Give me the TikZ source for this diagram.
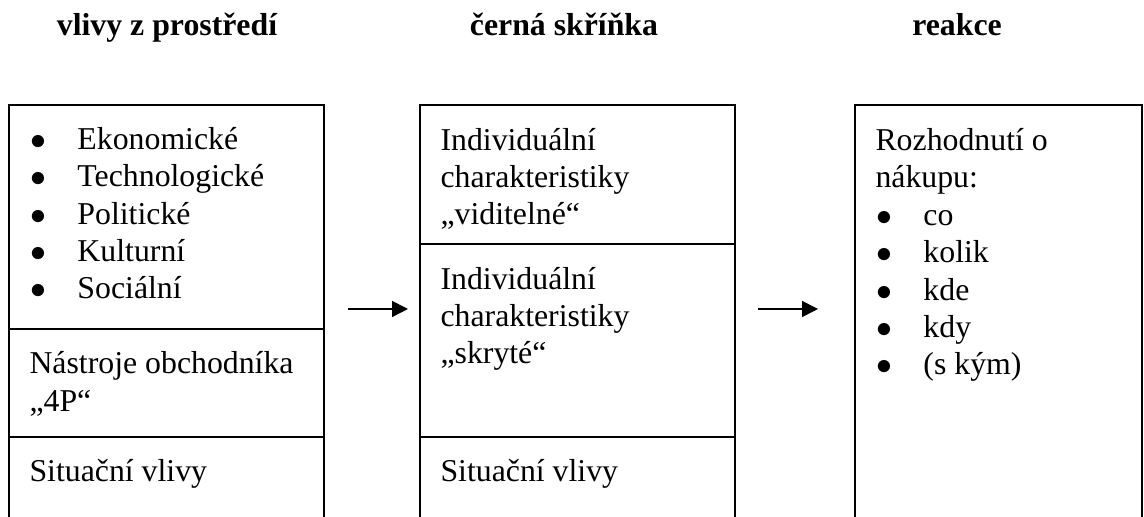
\documentclass[tikz,border=0pt]{standalone}
\usepackage{fontspec}
\setmainfont{Liberation Serif}
\usetikzlibrary{arrows.meta}

\newcommand{\itembul}{\makebox[18.1pt][l]{\hspace{0.3pt}$\bullet$}}

\begin{document}
\begin{tikzpicture}
[x=0.3774pt, y=-0.3774pt,
frame/.style={black, line width = 0.75pt},
flow/.style={black, line width = 0.6pt, -{Triangle[length=6pt, width=6pt]}},
heading/.style={font=\fontsize{12}{14.15}\selectfont\bfseries, anchor=base, inner sep=0pt},
cell/.style={font=\fontsize{12}{14.15}\selectfont, anchor=base west, align=left, inner sep=0pt}]
\useasboundingbox (0,0) rectangle (1144,517);
\node[heading] (env title) at (167,36) {vlivy z prostředí};
\node[heading] (box title) at (564,36) {černá skříňka};
\node[heading] (resp title) at (957,36) {reakce};
% vlivy z prostredi (base = last line)
\draw[frame] (9,517) -- (9,105) -- (324,105) -- (324,517);
\draw[frame] (9,329) -- (324,329);
\draw[frame] (9,437) -- (324,437);
\node[cell] (env list) at (29,299) {\itembul Ekonomické\\\itembul Technologické\\\itembul Politické\\\itembul Kulturní\\\itembul Sociální};
\node[cell] (env tools) at (29,411.5) {Nástroje obchodníka\\„4P“};
\node[cell] (env sit) at (29,482) {Situační vlivy};
% cerna skrinka
\draw[frame] (420,517) -- (420,105) -- (735,105) -- (735,517);
\draw[frame] (420,244) -- (735,244);
\draw[frame] (420,437) -- (735,437);
\node[cell] (box visible) at (440,225) {Individuální\\charakteristiky\\„viditelné“};
\node[cell] (box hidden) at (440,364) {Individuální\\charakteristiky\\„skryté“};
\node[cell] (box sit) at (440,482) {Situační vlivy};
% reakce
\draw[frame] (855,517) -- (855,105) -- (1142,105) -- (1142,517);
\node[cell] (resp list) at (875,375) {Rozhodnutí o\\nákupu:\\\itembul co\\\itembul kolik\\\itembul kde\\\itembul kdy\\\itembul (s kým)};
% sipky
\coordinate (arr1 tail) at (348,309);
\coordinate (arr1 head) at (408,309);
\draw[flow] (arr1 tail) -- (arr1 head);
\coordinate (arr2 tail) at (758,309);
\coordinate (arr2 head) at (818,309);
\draw[flow] (arr2 tail) -- (arr2 head);
\end{tikzpicture}
\end{document}
